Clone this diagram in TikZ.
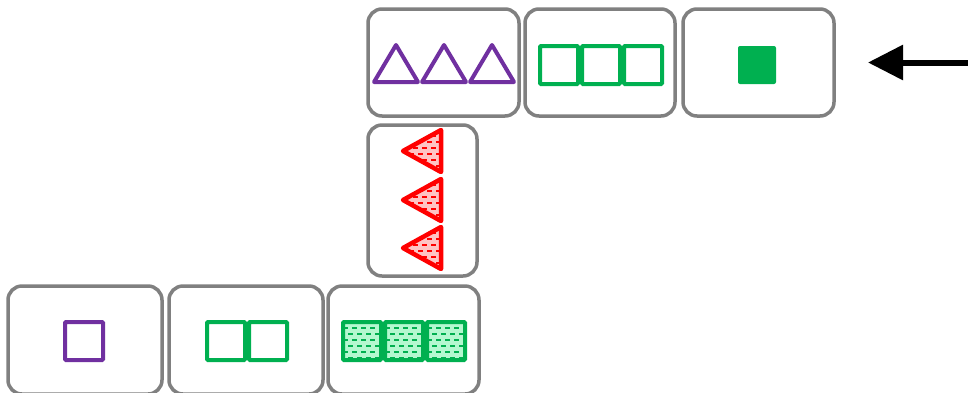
\documentclass[tikz,border=0pt]{standalone}
\usetikzlibrary{arrows.meta}
\definecolor{boxgray}{HTML}{808080}
\definecolor{purp}{HTML}{7030A0}
\definecolor{grn}{HTML}{00B050}
\definecolor{lgrn}{HTML}{B4F8D0}
\definecolor{pink}{HTML}{FFC4C4}
\begin{document}
\begin{tikzpicture}[x=1pt,y=-1pt,
  panel/.style={draw=boxgray, line width=3.5pt, rounded corners=14pt, fill=white, inner sep=0pt, outer sep=0pt, anchor=north west},
  trip/.style={draw=purp, line width=4pt, line join=round},
  sqg/.style={draw=grn, line width=4pt, rounded corners=1pt},
  sqp/.style={draw=purp, line width=4pt, rounded corners=1pt},
  trired/.style={draw=red, line width=4.5pt, line join=round},
  bigarrow/.style={draw=black, line width=6pt, -{Triangle[length=35pt,width=34pt]}}]
\useasboundingbox (0,0) rectangle (968,392);
% panels
\node[panel, minimum width=151pt, minimum height=107pt] (b1) at (368,9) {};
\node[panel, minimum width=150pt, minimum height=107pt] (b2) at (525,9) {};
\node[panel, minimum width=151pt, minimum height=107pt] (b3) at (683,9) {};
\node[panel, minimum width=109pt, minimum height=151pt] (bv) at (368,125) {};
\node[panel, minimum width=154pt, minimum height=108pt] (ba) at (8,286) {};
\node[panel, minimum width=154pt, minimum height=108pt] (bb) at (169,286) {};
\node[panel, minimum width=151pt, minimum height=108pt] (bc) at (328,286) {};
% purple triangles
\foreach \x in {374,422,470}{
  \draw[trip] (\x,82) -- (\x+22,45) -- (\x+44,82) -- cycle;
}
% green outline squares top
\foreach \x in {540,582,624}{
  \draw[sqg] (\x,46) rectangle ++(38,38);
}
% filled green square
\fill[grn, rounded corners=2pt] (738,46) rectangle ++(38,38);
% red triangles
\foreach \c in {151,200,248}{
  \begin{scope}
    \clip (403,\c) -- (441,\c-21) -- (441,\c+21) -- cycle;
    \fill[pink] (400,\c-25) rectangle (445,\c+25);
    \foreach \r [count=\i] in {-15,-9,-3,3,9,15}{
      \pgfmathsetmacro\ph{mod(\i,2)*4}
      \draw[red, line width=1.2pt, dash pattern=on 5pt off 4pt] (400+\ph,\c+\r) -- (445,\c+\r);
    }
  \end{scope}
  \draw[trired] (403,\c) -- (441,\c-21) -- (441,\c+21) -- cycle;
}
% purple square
\draw[sqp] (65,322) rectangle ++(38,38);
% two green squares
\foreach \x in {207,249}{
  \draw[sqg] (\x,322) rectangle ++(38,38);
}
% three hatched green squares
\foreach \x in {343,385,427}{
  \begin{scope}
    \clip (\x,322) rectangle ++(38,38);
    \fill[lgrn] (\x,322) rectangle ++(38,38);
    \foreach \r [count=\i] in {328,334,340,346,352,358}{
      \pgfmathsetmacro\ph{mod(\i,2)*4}
      \draw[grn, line width=1.2pt, dash pattern=on 5pt off 4pt] (\x-4+\ph,\r) -- (\x+40,\r);
    }
  \end{scope}
  \draw[sqg] (\x,322) rectangle ++(38,38);
}
% arrow
\coordinate (astart) at (968,62.5);
\draw[bigarrow, shorten >=34pt] (astart) -- (b3.east);
\end{tikzpicture}
\end{document}
